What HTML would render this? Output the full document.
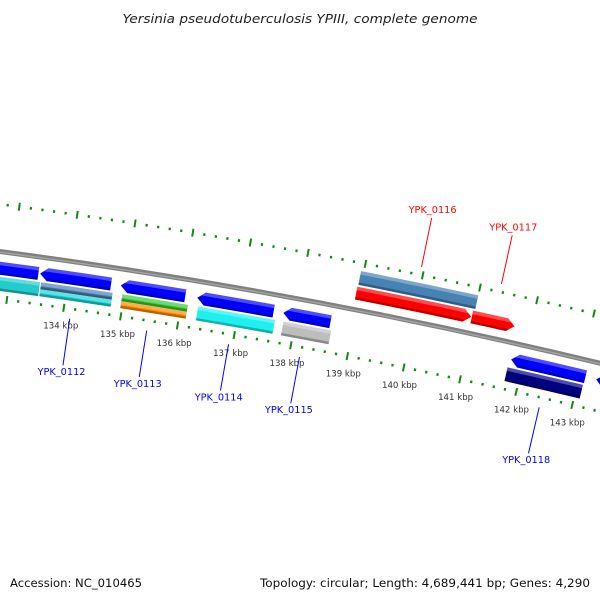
<!DOCTYPE html>
<html><head><meta charset="utf-8"><title>Genome map</title>
<style>html,body{margin:0;padding:0;background:#fff}svg{display:block}</style></head>
<body>
<svg id="map" width="600" height="600" viewBox="0 0 600 600" xmlns="http://www.w3.org/2000/svg">
<rect x="0" y="0" width="600" height="600" fill="#fff"/>
<text x="300" y="23" text-anchor="middle" textLength="355" lengthAdjust="spacingAndGlyphs" font-family="DejaVu Sans, Liberation Sans, sans-serif" font-style="italic" font-size="12.5" fill="#222">Yersinia pseudotuberculosis YPIII, complete genome</text>
<text x="10" y="587" textLength="132" lengthAdjust="spacingAndGlyphs" font-family="DejaVu Sans, Liberation Sans, sans-serif" font-size="11.5" fill="#111">Accession: NC_010465</text>
<text x="590" y="587" text-anchor="end" textLength="330" lengthAdjust="spacingAndGlyphs" font-family="DejaVu Sans, Liberation Sans, sans-serif" font-size="11.5" fill="#111">Topology: circular; Length: 4,689,441 bp; Genes: 4,290</text>
<defs id="defs"></defs>
<g id="layer"></g>
</svg>
<script>
// ---- data ----
const geneNames  = ["YPK_0111","YPK_0112","YPK_0113","YPK_0114","YPK_0115","YPK_0116","YPK_0117","YPK_0118","YPK_0119"];
const geneStart  = [131.5, 133.51, 134.92, 136.26, 137.77, 138.94, 140.97, 141.79, 143.30];
const geneEnd    = [133.48, 134.75, 136.05, 137.60, 138.60, 140.96, 141.72, 143.11, 145.00];
const geneStrand = [-1, -1, -1, -1, -1, 1, 1, -1, -1];
const geneLabeled= [false, true, true, true, true, true, true, true, false];

const featStart = [131.5, 133.55, 133.55, 134.97, 134.97, 136.30, 137.80, 138.95, 141.76];
const featEnd   = [133.53, 134.80, 134.80, 136.12, 136.12, 137.65, 138.64, 141.00, 143.10];
const featSide  = [-1, -1, -1, -1, -1, -1, -1, 1, -1];
const featPart  = ["full","top","bottom","top","bottom","full","full","full","full"];
const featColor = ["#22cccc","#4a7fb0","#1ed6d6","#33cc33","#ff8c00","#1ef0f0","#bdbdbd","#4682b4","#000080"];

const tickFrom = 128, tickTo = 146;       // kbp
const minorStep = 0.2;                    // kbp
const labelKbp = [134,135,136,137,138,139,140,141,142,143];

// ---- geometry ----
const CX = -750.6, CY = 5952.4, R0 = 5750;
const A0 = 8.21, DEG = 0.578;   // angle at 134 kbp, deg per kbp
const HEAD = 0.13;
const NS = "http://www.w3.org/2000/svg";
const layer = document.getElementById('layer');
const defs = document.getElementById('defs');
function ang(k){ return (A0 + (k-134)*DEG)*Math.PI/180; }
function pt(k,r){ const a=ang(k); return [CX + r*Math.sin(a), CY - r*Math.cos(a)]; }
function P(p){ return p[0].toFixed(2)+" "+p[1].toFixed(2); }
function barPath(k1,k2,r1,r2){
  return "M"+P(pt(k1,r2))+" A"+r2+" "+r2+" 0 0 1 "+P(pt(k2,r2))+" L"+P(pt(k2,r1))+" A"+r1+" "+r1+" 0 0 0 "+P(pt(k1,r1))+" Z";
}
function arrowPath(k1,k2,r1,r2,strand){
  const m=(r1+r2)/2, h=Math.min(HEAD,(k2-k1)*0.5);
  if(strand>0){
    return "M"+P(pt(k1,r2))+" A"+r2+" "+r2+" 0 0 1 "+P(pt(k2-h,r2))+" L"+P(pt(k2,m))+" L"+P(pt(k2-h,r1))+" A"+r1+" "+r1+" 0 0 0 "+P(pt(k1,r1))+" Z";
  }
  return "M"+P(pt(k1+h,r2))+" A"+r2+" "+r2+" 0 0 1 "+P(pt(k2,r2))+" L"+P(pt(k2,r1))+" A"+r1+" "+r1+" 0 0 0 "+P(pt(k1+h,r1))+" L"+P(pt(k1,m))+" Z";
}
function mk(tag, attrs){ const e=document.createElementNS(NS,tag); for(const k in attrs) e.setAttribute(k,attrs[k]); return e; }
let clipId=0;
function shade(d, r1, r2){
  // highlight near outer edge, shadow near inner edge
  const idA='c'+(clipId++), idB='c'+(clipId++);
  const ca=mk('clipPath',{id:idA}); ca.appendChild(mk('path',{d:barPath(125,150,r2-3.5,r2+1)})); defs.appendChild(ca);
  const cb=mk('clipPath',{id:idB}); cb.appendChild(mk('path',{d:barPath(125,150,r1-1,r1+2.5)})); defs.appendChild(cb);
  const hi=mk('path',{d:d,fill:'#fff','fill-opacity':'0.3','clip-path':'url(#'+idA+')'});
  
  
  const lo=mk('path',{d:d,fill:'#000','fill-opacity':'0.28','clip-path':'url(#'+idB+')'});
  
  
  layer.appendChild(hi); layer.appendChild(lo);
}

// ---- ticks (inner and outer rulers) ----
const ringR = [R0-47, R0+47];
ringR.forEach(function(rr, ri){
  const n = Math.round((tickTo-tickFrom)/minorStep);
  for(let i=0;i<=n;i++){
    const k = tickFrom + i*minorStep;
    const major = Math.abs(k-Math.round(k))<1e-6;
    const len = major?8:2.6;
    const a=pt(k,rr-len/2), b=pt(k,rr+len/2);
    const t=mk('line',{x1:a[0],y1:a[1],x2:b[0],y2:b[1],stroke:'#128a12','stroke-width':major?2:2.2});
    
    
    layer.appendChild(t);
  }
});
labelKbp.forEach(function(k){
  const p=pt(k,R0-47-21);
  const t=mk('text',{x:p[0].toFixed(1),y:p[1].toFixed(1),'text-anchor':'middle','font-family':'DejaVu Sans, Liberation Sans, sans-serif','font-size':'8.6',fill:'#333'});
  t.textContent=k+" kbp";
  
  
  layer.appendChild(t);
});

// ---- backbone ----
const bb=mk('path',{d:"M"+P(pt(126,R0))+" A"+R0+" "+R0+" 0 0 1 "+P(pt(148,R0)),fill:'none',stroke:'#808080','stroke-width':5});


layer.appendChild(bb);
const bb2=mk('path',{d:"M"+P(pt(126,R0-0.6))+" A"+(R0-0.6)+" "+(R0-0.6)+" 0 0 1 "+P(pt(148,R0-0.6)),fill:'none',stroke:'#a4a4a4','stroke-width':1.4});


layer.appendChild(bb2);

// ---- second track features ----
for(let i=0;i<featStart.length;i++){
  let r1,r2;
  if(featSide[i]<0){ r1=R0-39; r2=R0-25; } else { r1=R0+25; r2=R0+39; }
  const mid=(r1+r2)/2;
  if(featPart[i]==="top"){ r1=mid; }
  else if(featPart[i]==="bottom"){ r2=mid; }
  const d=barPath(featStart[i],featEnd[i],r1,r2);
  const e=mk('path',{d:d,fill:featColor[i]});
  
  
  layer.appendChild(e);
  shade(d,r1,r2);
}

// ---- genes ----
for(let i=0;i<geneNames.length;i++){
  const s=geneStrand[i];
  const r1 = s>0 ? R0+10 : R0-23, r2 = s>0 ? R0+23 : R0-10;
  const d=arrowPath(geneStart[i],geneEnd[i],r1,r2,s);
  const e=mk('path',{d:d,fill:s>0?'#ff0000':'#0000ff'});
  
  
  layer.appendChild(e);
  shade(d,r1,r2);
  if(!geneLabeled[i]) continue;
  const km=(geneStart[i]+geneEnd[i])/2;
  const col=s>0?'#ff0000':'#0000ff';
  let a,b,lp;
  if(s>0){ a=pt(km,R0+55); b=pt(km,R0+105); lp=pt(km,R0+110); }
  else { a=pt(km,R0-57); b=pt(km,R0-104); lp=pt(km,R0-114); }
  const ln=mk('line',{x1:a[0],y1:a[1],x2:b[0],y2:b[1],stroke:col,'stroke-width':1});
  
  
  layer.appendChild(ln);
  const t=mk('text',{x:lp[0].toFixed(1),y:(lp[1]+(s>0?0:0)).toFixed(1),'text-anchor':'middle','font-family':'DejaVu Sans, Liberation Sans, sans-serif','font-size':'10',textLength:'48',lengthAdjust:'spacingAndGlyphs',fill:col});
  t.textContent=geneNames[i];
  
  
  layer.appendChild(t);
}
</script>
</body></html>
